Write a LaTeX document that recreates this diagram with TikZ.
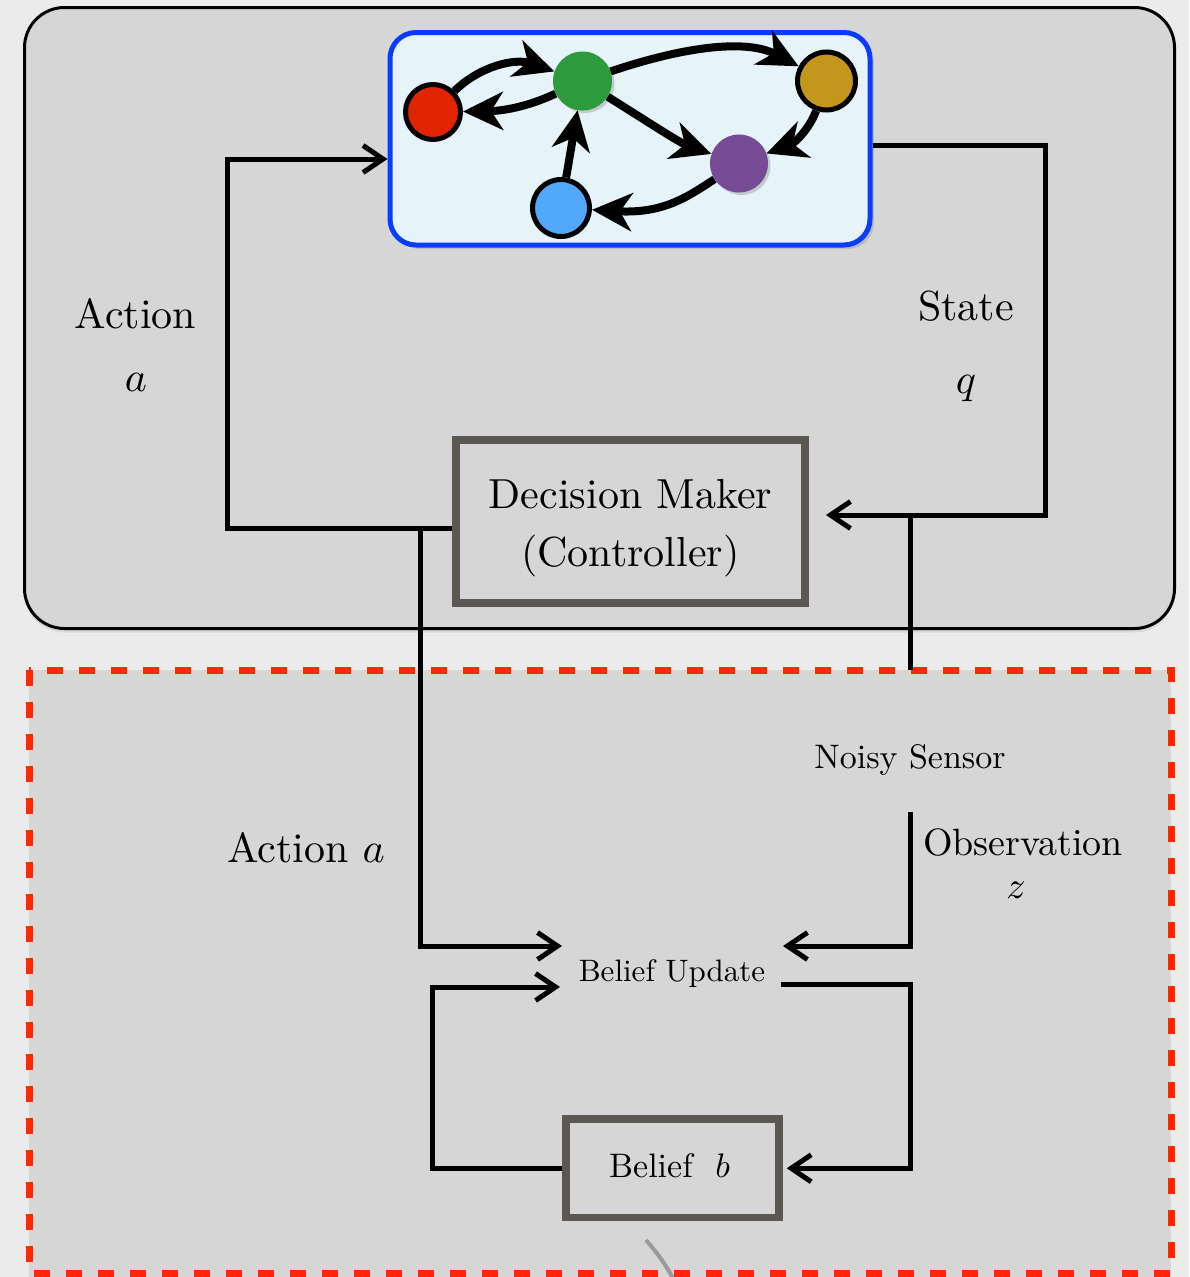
\documentclass[tikz,border=0pt]{standalone}
\usepackage{graphicx}
\usetikzlibrary{arrows.meta,shadows}

\definecolor{pagebg}{HTML}{EBEBEB}
\definecolor{panelgray}{HTML}{D6D6D6}
\definecolor{graphfill}{HTML}{E6F3F9}
\definecolor{graphblue}{HTML}{0A3CFF}
\definecolor{boxgray}{HTML}{5B5853}
\definecolor{dashred}{HTML}{FF2600}
\definecolor{nred}{HTML}{E32400}
\definecolor{ngreen}{HTML}{2E9A3E}
\definecolor{ngold}{HTML}{C4961C}
\definecolor{npurple}{HTML}{744B94}
\definecolor{nblue}{HTML}{52A8FA}
\definecolor{arcgray}{HTML}{9A9A9A}

\begin{document}
\begin{tikzpicture}[x=1pt,y=-1pt,
  panel/.style={fill=panelgray,draw=black,line width=3pt,rounded corners=40pt,
    drop shadow={shadow xshift=0pt,shadow yshift=-4pt,opacity=0.18}},
  flow/.style={draw=black,line width=5pt},
  flowarrow/.style={flow,-{Straight Barb[length=20pt,width=27pt]}},
  edgearrow/.style={draw=black,line width=8pt,-{Stealth[length=40pt 0 0,width=38pt 0,inset=12pt]}},
  statenode/.style={circle,inner sep=0pt},
  ringed/.style={statenode,draw=black,line width=5pt},
  plain/.style={statenode,drop shadow={shadow xshift=2.5pt,shadow yshift=-2.5pt,opacity=0.35}},
  blockbox/.style={draw=boxgray,line width=8pt,fill=panelgray,inner sep=0pt},
  lbl/.style={inner sep=0pt,anchor=base}]

\useasboundingbox (0,0) rectangle (1189,1277);
\fill[pagebg] (0,0) rectangle (1189,1277);

% upper panel: plant and controller
\draw[panel] (24.5,7.5) rectangle (1174.5,628.5);

% lower panel: belief estimator
\fill[panelgray] (29,670) rectangle (1171,1277);
\draw[dashred,line width=7pt,dash pattern=on 16pt off 16pt] (29,670) rectangle (1171,1273);

% graph of the plant
\node[draw=graphblue,line width=5pt,fill=graphfill,rounded corners=26pt,
  minimum width=480pt,minimum height=212.5pt,inner sep=0pt,
  drop shadow={shadow xshift=4pt,shadow yshift=-4pt,opacity=0.3}] (gb) at (630,138.75) {};

\node[ringed,fill=nred,minimum size=55pt] (r) at (433,112) {};
\node[plain,fill=ngreen,minimum size=59pt] (g) at (582.5,81) {};
\node[ringed,fill=ngold,minimum size=58pt] (o) at (826.5,81) {};
\node[plain,fill=npurple,minimum size=58pt] (p) at (739,163.5) {};
\node[ringed,fill=nblue,minimum size=57pt] (b) at (561,208) {};

\draw[edgearrow] (r) .. controls (480,66) and (515,58) .. (g);
\draw[edgearrow] (g) .. controls (525,108) and (500,111) .. (r);
\draw[edgearrow] (g) .. controls (680,48) and (745,38) .. (o);
\draw[edgearrow] (g) .. controls (645,120) and (680,143) .. (p);
\draw[edgearrow] (o) .. controls (810,128) and (795,143) .. (p);
\draw[edgearrow] (p) .. controls (690,195) and (665,214) .. (b);
\draw[edgearrow] (b) -- (g);

% controller
\node[blockbox,minimum width=349pt,minimum height=162.5pt] (dm) at (630.5,521.25) {};
\node[inner sep=0pt] (dmtext) at ([yshift=-5pt]dm.center)
  {\renewcommand\arraystretch{1.15}\scalebox{4.2}{\begin{tabular}{@{}c@{}}Decision Maker\\(Controller)\end{tabular}}};

% labels of the upper loop
\node[lbl] (actlbl) at (135.5,328) {\scalebox{4.2}{Action}};
\node[lbl] (actvar) at (136,391) {\scalebox{4.2}{$a$}};
\node[lbl] (statelbl) at (966,320) {\scalebox{4.2}{State}};
\node[lbl] (statevar) at (966,393) {\scalebox{4.2}{$q$}};

% belief estimator
\node[blockbox,line width=7.5pt,minimum width=213pt,minimum height=98.5pt] (bb) at (672.5,1168.25) {};
\node[inner sep=0pt] (bbtext) at ([xshift=-3pt,yshift=3pt]bb.center) {\scalebox{3.4}{Belief\ \ $b$}};
\node[lbl] (bu) at (672,981) {\scalebox{3.1}{Belief Update}};
\node[lbl] (ns) at (910,768) {\scalebox{3.4}{Noisy Sensor}};
\node[lbl] (act2) at (306,862) {\scalebox{4.2}{Action $a$}};
\node[lbl] (obs) at (1023,855) {\scalebox{3.8}{Observation}};
\node[lbl] (obsvar) at (1016,898) {\scalebox{3.8}{$z$}};

% connector corners
\coordinate (actCorner) at (227,528);
\coordinate (actTop) at (227,159);
\coordinate (stTop) at (1045,145);
\coordinate (stBot) at (1045,515);
\coordinate (stTip) at (826,515);
\coordinate (snsTop) at (910,517);
\coordinate (snsBot) at (910,670);
\coordinate (adTop) at (420,528);
\coordinate (adCorner) at (420,946);
\coordinate (buInA) at (562,946);
\coordinate (obsTop) at (910,812);
\coordinate (obsCorner) at (910,946);
\coordinate (buInZ) at (783,946);
\coordinate (buOut) at (781,984);
\coordinate (upCorner) at (910,984);
\coordinate (loopTop) at (432,987);
\coordinate (buInB) at (560,987);

% upper loop
\draw[flowarrow] (dm.west |- actCorner) -- (actCorner) -- (actTop) -- (gb.west |- actTop);
\draw[flowarrow] (gb.east |- stTop) -- (stTop) -- (stBot) -- (stTip);
\draw[flow] (snsTop) -- (snsBot);

% lower loop
\draw[flowarrow] (adTop) -- (adCorner) -- (buInA);
\draw[flowarrow] (obsTop) -- (obsCorner) -- (buInZ);
\draw[flowarrow,shorten >=4pt] (buOut) -- (upCorner) |- (bb.east);
\draw[flowarrow] (bb.west) -| (loopTop) -- (buInB);

% link leaving the lower panel
\draw[arcgray,line width=4pt] (646,1240) .. controls (658,1254) and (667,1266) .. (676,1284);
\end{tikzpicture}
\end{document}
